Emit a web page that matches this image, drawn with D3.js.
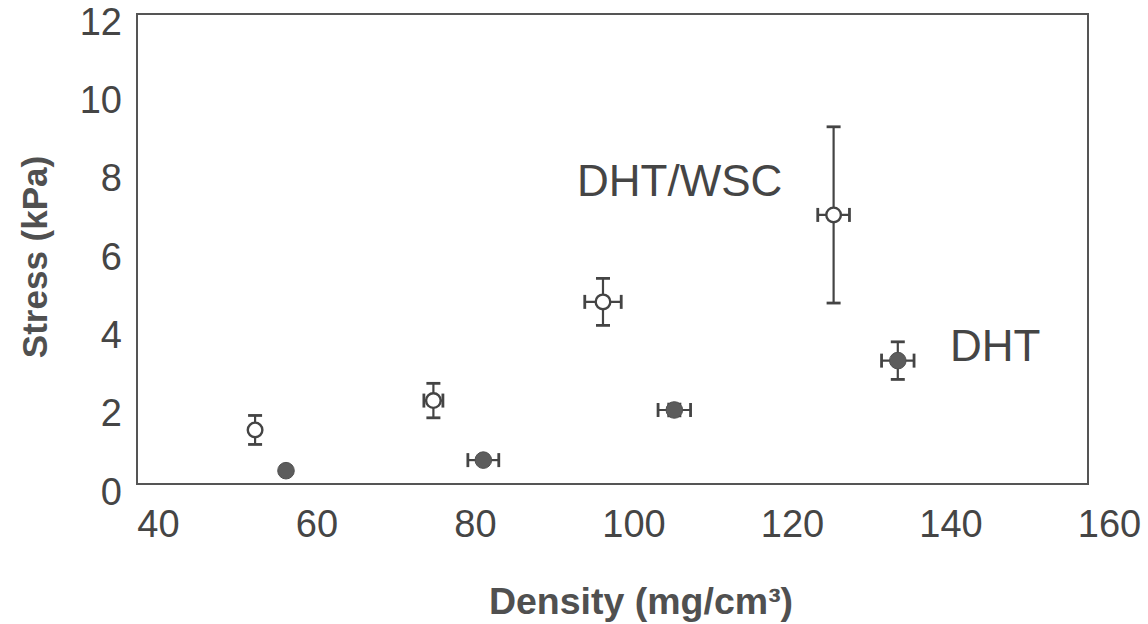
<!DOCTYPE html>
<html>
<head>
<meta charset="utf-8">
<script src="https://cdn.jsdelivr.net/npm/d3@7"></script>
<style>
  html, body { margin: 0; padding: 0; background: #ffffff; }
  svg { display: block; }
</style>
</head>
<body>
<svg id="chart" width="1148" height="624"></svg>
<script>
// ---- data ----
const openDensity   = [54.9, 77.4, 98.8, 127.9];
const openStress    = [1.38, 2.13, 4.65, 6.87];
const openStressErr = [0.37, 0.44, 0.60, 2.25];
const openDensErr   = [0.0, 1.2, 2.3, 2.0];

const fillDensity   = [58.8, 83.7, 107.8, 136.0];
const fillStress    = [0.34, 0.61, 1.89, 3.15];
const fillStressErr = [0.0, 0.0, 0.15, 0.48];
const fillDensErr   = [0.0, 1.95, 2.05, 2.05];

const xTicks = [40, 60, 80, 100, 120, 140, 160];
const yTicks = [0, 2, 4, 6, 8, 10, 12];
const seriesLabels = ["DHT/WSC", "DHT"];

// ---- layout ----
const svg = d3.select("#chart");
const L = 137, R = 1088, T = 14, B = 484;
const x = d3.scaleLinear().domain([40, 160]).range([L, R]);
const y = d3.scaleLinear().domain([0, 12]).range([B, T]);
const ink = "#454545";
const font = "Liberation Sans, Arial, sans-serif";

// frame
svg.append("rect")
  .attr("x", L).attr("y", T).attr("width", R - L).attr("height", B - T)
  .attr("fill", "none").attr("stroke", "#555").attr("stroke-width", 2);

// x axis
const gx = svg.append("g").attr("transform", `translate(0,${B})`)
  .call(d3.axisBottom(x).tickValues(xTicks).tickSize(0).tickPadding(26));
gx.select(".domain").remove();
gx.selectAll("text")
  .attr("dx", 21)
  .attr("font-family", font).attr("font-size", 38).attr("fill", ink);

// y axis
const gy = svg.append("g").attr("transform", `translate(${L},0)`)
  .call(d3.axisLeft(y).tickValues(yTicks).tickSize(0).tickPadding(15));
gy.select(".domain").remove();
gy.selectAll("text")
  .attr("transform", "translate(0,8)")
  .attr("font-family", font).attr("font-size", 38).attr("fill", ink);

// axis titles
svg.append("text")
  .attr("x", 641).attr("y", 614)
  .attr("text-anchor", "middle")
  .attr("font-family", font).attr("font-weight", "bold").attr("font-size", 37.5)
  .attr("fill", "#505050")
  .text("Density (mg/cm³)");

svg.append("text")
  .attr("transform", "translate(47,257) rotate(-90)")
  .attr("text-anchor", "middle")
  .attr("font-family", font).attr("font-weight", "bold").attr("font-size", 35)
  .attr("fill", "#505050")
  .text("Stress (kPa)");

// error bars + markers
function drawSeries(dx, dy, ey, ex, filled) {
  const data = dx.map((d, i) => ({ x: d, y: dy[i], ey: ey[i], ex: ex[i] }));
  const g = svg.append("g");
  const cap = 7;
  data.forEach(d => {
    const cx = x(d.x), cy = y(d.y);
    if (d.ey > 0) {
      const y1 = y(d.y + d.ey), y2 = y(d.y - d.ey);
      g.append("line").attr("x1", cx).attr("x2", cx).attr("y1", y1).attr("y2", y2)
        .attr("stroke", "#444").attr("stroke-width", 2.2);
      [y1, y2].forEach(yy => g.append("line")
        .attr("x1", cx - cap).attr("x2", cx + cap).attr("y1", yy).attr("y2", yy)
        .attr("stroke", "#444").attr("stroke-width", 2.8));
    }
    if (d.ex > 0) {
      const x1 = x(d.x - d.ex), x2 = x(d.x + d.ex);
      g.append("line").attr("x1", x1).attr("x2", x2).attr("y1", cy).attr("y2", cy)
        .attr("stroke", "#444").attr("stroke-width", 2.2);
      [x1, x2].forEach(xx => g.append("line")
        .attr("x1", xx).attr("x2", xx).attr("y1", cy - cap).attr("y2", cy + cap)
        .attr("stroke", "#444").attr("stroke-width", 2.8));
    }
  });
  g.selectAll("circle").data(data).join("circle")
    .attr("cx", d => x(d.x)).attr("cy", d => y(d.y))
    .attr("r", filled ? 8.3 : 7.3)
    .attr("fill", filled ? "#5c5c5c" : "#ffffff")
    .attr("stroke", filled ? "#505050" : "#444")
    .attr("stroke-width", filled ? 1 : 2.4);
}
drawSeries(openDensity, openStress, openStressErr, openDensErr, false);
drawSeries(fillDensity, fillStress, fillStressErr, fillDensErr, true);

// series labels
svg.append("text")
  .attr("x", 577).attr("y", 196)
  .attr("font-family", font).attr("font-size", 44).attr("fill", ink)
  .text(seriesLabels[0]);
svg.append("text")
  .attr("x", 950).attr("y", 361)
  .attr("font-family", font).attr("font-size", 44).attr("fill", ink)
  .text(seriesLabels[1]);
</script>
</body>
</html>
